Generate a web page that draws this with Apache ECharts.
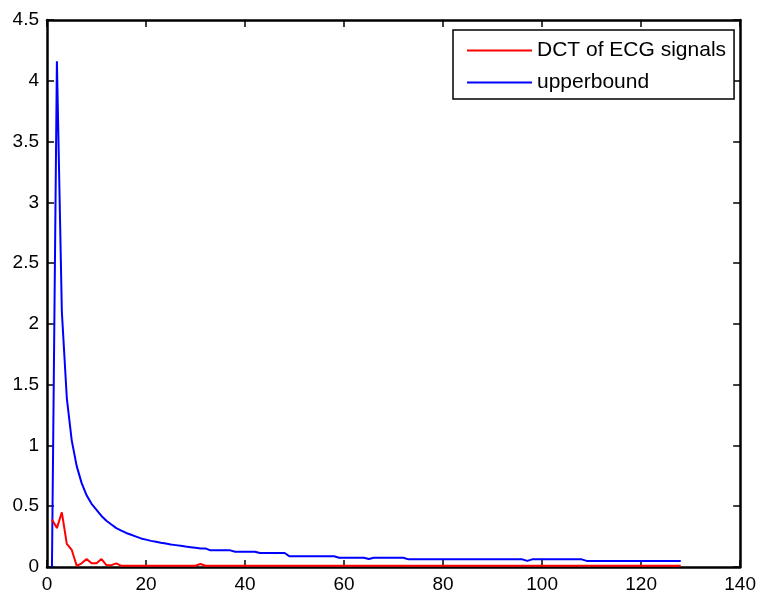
<!DOCTYPE html>
<html>
<head>
<meta charset="utf-8">
<script src="https://cdn.jsdelivr.net/npm/echarts@6/dist/echarts.min.js"></script>
<style>
  html, body { margin: 0; padding: 0; background: #fff; }
  #main { width: 759px; height: 594px; }
</style>
</head>
<body>
<div id="main"></div>
<script>
// DCT coefficients of ECG signal (index 1..128)
const dctValues = [
  0.39, 0.32, 0.45, 0.19, 0.14, 0.01, 0.03, 0.065, 0.03, 0.03,
  0.065, 0.015, 0.015, 0.03, 0.01, 0.01, 0.01, 0.01, 0.01, 0.01,
  0.01, 0.01, 0.01, 0.01, 0.01, 0.01, 0.01, 0.01, 0.01, 0.01,
  0.025, 0.01, 0.01, 0.01, 0.01, 0.01, 0.01, 0.01, 0.01, 0.01,
  0.01, 0.01, 0.01, 0.01, 0.01, 0.01, 0.01, 0.01, 0.01, 0.01,
  0.01, 0.01, 0.01, 0.01, 0.01, 0.01, 0.01, 0.01, 0.01, 0.01,
  0.01, 0.01, 0.01, 0.01, 0.01, 0.01, 0.01, 0.01, 0.01, 0.01,
  0.01, 0.01, 0.01, 0.01, 0.01, 0.01, 0.01, 0.01, 0.01, 0.01,
  0.01, 0.01, 0.01, 0.01, 0.01, 0.01, 0.01, 0.01, 0.01, 0.01,
  0.01, 0.01, 0.01, 0.01, 0.01, 0.01, 0.01, 0.01, 0.01, 0.01,
  0.01, 0.01, 0.01, 0.01, 0.01, 0.01, 0.01, 0.01, 0.01, 0.01,
  0.01, 0.01, 0.01, 0.01, 0.01, 0.01, 0.01, 0.01, 0.01, 0.01,
  0.01, 0.01, 0.01, 0.01, 0.01, 0.01, 0.01, 0.01
]

// upper bound curve (index 1..128)
const upperValues = [
  0, 4.16, 2.1, 1.39, 1.04, 0.83, 0.69, 0.59, 0.52, 0.47,
  0.42, 0.38, 0.35, 0.32, 0.30, 0.28, 0.265, 0.25, 0.235, 0.225,
  0.215, 0.208, 0.2, 0.193, 0.186, 0.18, 0.174, 0.168, 0.163, 0.158,
  0.153, 0.153, 0.137, 0.137, 0.137, 0.137, 0.137, 0.126, 0.126, 0.126,
  0.126, 0.126, 0.115, 0.115, 0.115, 0.115, 0.115, 0.115, 0.088, 0.088,
  0.088, 0.088, 0.088, 0.088, 0.088, 0.088, 0.088, 0.088, 0.076, 0.076,
  0.076, 0.076, 0.076, 0.076, 0.066, 0.076, 0.076, 0.076, 0.076, 0.076,
  0.076, 0.076, 0.063, 0.063, 0.063, 0.063, 0.063, 0.063, 0.063, 0.063,
  0.063, 0.063, 0.063, 0.063, 0.063, 0.063, 0.063, 0.063, 0.063, 0.063,
  0.063, 0.063, 0.063, 0.063, 0.063, 0.063, 0.05, 0.063, 0.063, 0.063,
  0.063, 0.063, 0.063, 0.063, 0.063, 0.063, 0.063, 0.063, 0.05, 0.05,
  0.05, 0.05, 0.05, 0.05, 0.05, 0.05, 0.05, 0.05, 0.05, 0.05,
  0.05, 0.05, 0.05, 0.05, 0.05, 0.05, 0.05, 0.05
]

const seriesNames = ['DCT of ECG signals', 'upperbound']

const FONT = '"Liberation Sans", Arial, Helvetica, sans-serif'

const toPairs = (arr) => arr.map((v, i) => [i + 1, v])

const chart = echarts.init(document.getElementById('main'))

const frameLine = { show: true, onZero: false, lineStyle: { color: '#000', width: 2.5 } }
const frameTick = { show: true, inside: true, length: 7, lineStyle: { color: '#000', width: 1.5 } }
const tickLabel = { fontFamily: FONT, fontSize: 19, color: '#000', margin: 8 }

const option = {
  animation: false,
  backgroundColor: '#fff',
  textStyle: { fontFamily: FONT, color: '#000' },
  grid: { left: 47, right: 17, top: 20, bottom: 26 },
  legend: {
    orient: 'vertical',
    left: 453,
    top: 30,
    data: seriesNames,
    icon: 'rect',
    padding: [10, 8, 6, 14],
    itemGap: 11,
    itemWidth: 65,
    itemHeight: 2,
    backgroundColor: '#fff',
    borderColor: '#000',
    borderWidth: 1.5,
    borderRadius: 0,
    textStyle: { fontFamily: FONT, fontSize: 21, color: '#000', lineHeight: 20 }
  },
  xAxis: [
    {
      type: 'value',
      min: 0,
      max: 140,
      interval: 20,
      position: 'bottom',
      axisLine: frameLine,
      axisTick: frameTick,
      splitLine: { show: false },
      axisLabel: tickLabel
    },
    {
      type: 'value',
      min: 0,
      max: 140,
      interval: 20,
      position: 'top',
      axisLine: frameLine,
      axisTick: frameTick,
      splitLine: { show: false },
      axisLabel: { show: false }
    }
  ],
  yAxis: [
    {
      type: 'value',
      min: 0,
      max: 4.5,
      interval: 0.5,
      position: 'left',
      axisLine: frameLine,
      axisTick: frameTick,
      splitLine: { show: false },
      axisLabel: tickLabel
    },
    {
      type: 'value',
      min: 0,
      max: 4.5,
      interval: 0.5,
      position: 'right',
      axisLine: frameLine,
      axisTick: frameTick,
      splitLine: { show: false },
      axisLabel: { show: false }
    }
  ],
  series: [
    {
      name: seriesNames[0],
      type: 'line',
      symbol: 'none',
      data: toPairs(dctValues),
      lineStyle: { color: '#ff0000', width: 2 },
      itemStyle: { color: '#ff0000' },
      z: 3
    },
    {
      name: seriesNames[1],
      type: 'line',
      symbol: 'none',
      data: toPairs(upperValues),
      lineStyle: { color: '#0000ff', width: 2 },
      itemStyle: { color: '#0000ff' },
      z: 2
    }
  ]
}

chart.setOption(option)
</script>
</body>
</html>
